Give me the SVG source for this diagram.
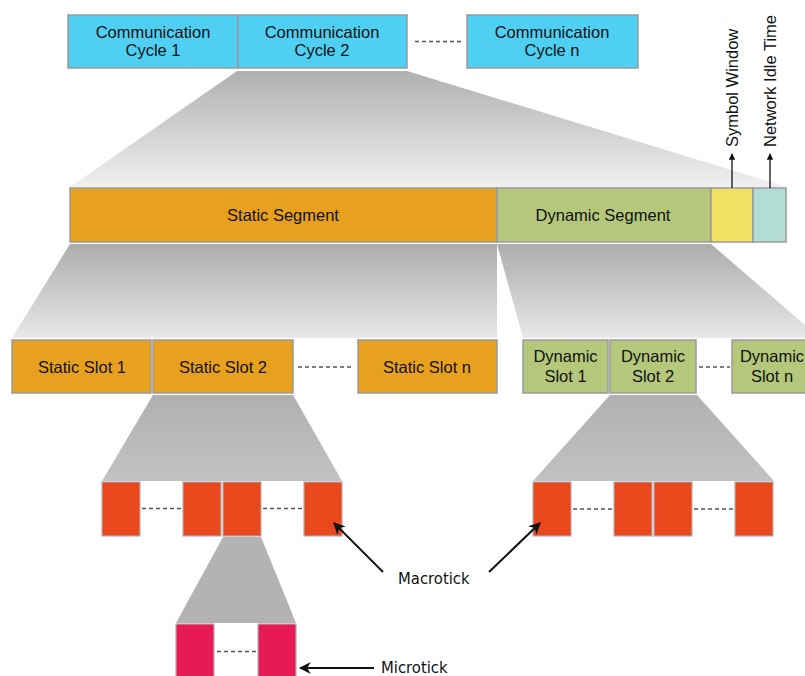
<svg xmlns="http://www.w3.org/2000/svg" width="805" height="676" viewBox="0 0 805 676">
  <defs>
    <linearGradient id="fadeStrong" x1="0" y1="0" x2="0" y2="1">
      <stop offset="0" stop-color="#b0b0b0"/>
      <stop offset="1" stop-color="#f0f0f0"/>
    </linearGradient>
    <linearGradient id="fadeMid" x1="0" y1="0" x2="0" y2="1">
      <stop offset="0" stop-color="#acacac"/>
      <stop offset="1" stop-color="#e8e8e8"/>
    </linearGradient>
    <linearGradient id="fadeLight" x1="0" y1="0" x2="0" y2="1">
      <stop offset="0" stop-color="#b0b0b0"/>
      <stop offset="1" stop-color="#c2c2c2"/>
    </linearGradient>
    <marker id="headSmall" viewBox="0 0 10 10" refX="9" refY="5" markerWidth="5" markerHeight="5" orient="auto">
      <path d="M0,0 L10,5 L0,10 z" fill="#111"/>
    </marker>
    <marker id="headBig" viewBox="0 0 10 10" refX="9" refY="5" markerWidth="6" markerHeight="6" orient="auto">
      <path d="M0,0 L10,5 L0,10 L3,5 z" fill="#111"/>
    </marker>
  </defs>
  <style>
    .box { stroke: #9a9a9a; stroke-width: 1.5; }
    .cycle { fill: #4fd0f2; }
    .static { fill: #e8a11e; }
    .dynamic { fill: #b5c77a; }
    .symbol { fill: #f2e063; }
    .idle { fill: #b2dcd4; }
    .macro { fill: #e8481c; stroke: #b0b0b0; stroke-width: 1.2; }
    .micro { fill: #e81a56; stroke: #b0b0b0; stroke-width: 1.2; }
    .lbl { font-family: "Liberation Sans", Arial, sans-serif; font-size: 16.5px; fill: #111; text-anchor: middle; }
    .vlbl { font-family: "Liberation Sans", Arial, sans-serif; font-size: 16.5px; fill: #111; }
    .tick { font-family: "DejaVu Sans Condensed", "DejaVu Sans", sans-serif; font-size: 16.5px; fill: #111; }
    .dash { stroke: #555; stroke-width: 1.3; stroke-dasharray: 4 3; fill: none; }
    .arrow { stroke: #111; stroke-width: 2; fill: none; }
    .arrowThin { stroke: #111; stroke-width: 1.3; fill: none; }
  </style>

  <!-- zoom-in fans between levels -->
  <g id="fans">
    <polygon points="237,71 407,71 787,187 70,187" fill="url(#fadeStrong)"/>
    <polygon points="70,244 497,244 497,338 12,338" fill="url(#fadeMid)"/>
    <polygon points="497,244 711,244 820,338 523,338" fill="url(#fadeMid)"/>
    <polygon points="153,395 293,395 342,481 102,481" fill="url(#fadeLight)"/>
    <polygon points="610,395 697,395 774,481 533,481" fill="url(#fadeLight)"/>
    <polygon points="223,537 261,537 296,623 176,623" fill="#b3b3b3"/>
  </g>

  <!-- communication cycles -->
  <g id="cycle1">
    <rect class="box cycle" x="68" y="15" width="170" height="53"/>
    <text class="lbl" x="153" y="38">Communication</text>
    <text class="lbl" x="153" y="56">Cycle 1</text>
  </g>
  <g id="cycle2">
    <rect class="box cycle" x="238" y="15" width="169" height="53"/>
    <text class="lbl" x="322" y="38">Communication</text>
    <text class="lbl" x="322" y="56">Cycle 2</text>
  </g>
  <g id="cycleN">
    <rect class="box cycle" x="467" y="15" width="171" height="53"/>
    <text class="lbl" x="552" y="38">Communication</text>
    <text class="lbl" x="552" y="56">Cycle n</text>
  </g>

  <!-- segments of one cycle -->
  <g id="staticSegment">
    <rect class="box static" x="70" y="188" width="427" height="54"/>
    <text class="lbl" x="283" y="221">Static Segment</text>
  </g>
  <g id="dynamicSegment">
    <rect class="box dynamic" x="497" y="188" width="214" height="54"/>
    <text class="lbl" x="603" y="221">Dynamic Segment</text>
  </g>
  <g id="symbolWindow">
    <rect class="box symbol" x="711" y="188" width="42" height="54"/>
    <text class="vlbl" transform="translate(738,147) rotate(-90)">Symbol Window</text>
  </g>
  <g id="networkIdleTime">
    <rect class="box idle" x="753" y="188" width="33" height="54"/>
    <text class="vlbl" transform="translate(776,147) rotate(-90)">Network Idle Time</text>
  </g>

  <!-- static slots -->
  <g id="staticSlot1">
    <rect class="box static" x="12" y="340" width="139" height="53"/>
    <text class="lbl" x="82" y="373">Static Slot 1</text>
  </g>
  <g id="staticSlot2">
    <rect class="box static" x="153" y="340" width="140" height="53"/>
    <text class="lbl" x="223" y="373">Static Slot 2</text>
  </g>
  <g id="staticSlotN">
    <rect class="box static" x="358" y="340" width="139" height="53"/>
    <text class="lbl" x="427" y="373">Static Slot n</text>
  </g>

  <!-- dynamic slots -->
  <g id="dynamicSlot1">
    <rect class="box dynamic" x="523" y="340" width="85" height="53"/>
    <text class="lbl" x="565.5" y="362">Dynamic</text>
    <text class="lbl" x="565.5" y="382">Slot 1</text>
  </g>
  <g id="dynamicSlot2">
    <rect class="box dynamic" x="610" y="340" width="86" height="53"/>
    <text class="lbl" x="653" y="362">Dynamic</text>
    <text class="lbl" x="653" y="382">Slot 2</text>
  </g>
  <g id="dynamicSlotN">
    <rect class="box dynamic" x="732" y="340" width="80" height="53"/>
    <text class="lbl" x="772" y="362">Dynamic</text>
    <text class="lbl" x="772" y="382">Slot n</text>
  </g>

  <!-- macroticks of a static slot -->
  <g id="staticMacroticks">
    <rect class="macro" x="102" y="482" width="38" height="54"/>
    <rect class="macro" x="183" y="482" width="38" height="54"/>
    <rect class="macro" x="223" y="482" width="38" height="54"/>
    <rect class="macro" x="304" y="482" width="38" height="54"/>
  </g>

  <!-- macroticks of a dynamic slot -->
  <g id="dynamicMacroticks">
    <rect class="macro" x="533" y="482" width="38" height="54"/>
    <rect class="macro" x="614" y="482" width="38" height="54"/>
    <rect class="macro" x="654" y="482" width="38" height="54"/>
    <rect class="macro" x="735" y="482" width="38" height="54"/>
  </g>

  <!-- microticks of one macrotick -->
  <g id="microticks">
    <rect class="micro" x="176" y="624" width="38" height="56"/>
    <rect class="micro" x="258" y="624" width="38" height="56"/>
  </g>

  <g id="macrotickLabel">
    <text class="tick" x="398" y="584">Macrotick</text>
  </g>
  <g id="microtickLabel">
    <text class="tick" x="381" y="673">Microtick</text>
  </g>

  <!-- connectors: ellipsis dashes and pointer arrows -->
  <g id="connectors">
    <line class="dash" x1="415" y1="41.5" x2="463" y2="41.5"/>
    <line class="dash" x1="298" y1="367" x2="354" y2="367"/>
    <line class="dash" x1="699" y1="367" x2="730" y2="367"/>
    <line class="dash" x1="142" y1="508.5" x2="181" y2="508.5"/>
    <line class="dash" x1="263" y1="508.5" x2="302" y2="508.5"/>
    <line class="dash" x1="573" y1="509" x2="612" y2="509"/>
    <line class="dash" x1="694" y1="509" x2="733" y2="509"/>
    <line class="dash" x1="217" y1="651.5" x2="256" y2="651.5"/>

    <line class="arrowThin" x1="732" y1="188" x2="732" y2="154" marker-end="url(#headSmall)"/>
    <line class="arrowThin" x1="770" y1="188" x2="770" y2="154" marker-end="url(#headSmall)"/>

    <line class="arrow" x1="383" y1="572" x2="334" y2="523" marker-end="url(#headBig)"/>
    <line class="arrow" x1="489" y1="572" x2="540" y2="523" marker-end="url(#headBig)"/>
    <line class="arrow" x1="374" y1="668" x2="300" y2="668" marker-end="url(#headBig)"/>
  </g>
</svg>
